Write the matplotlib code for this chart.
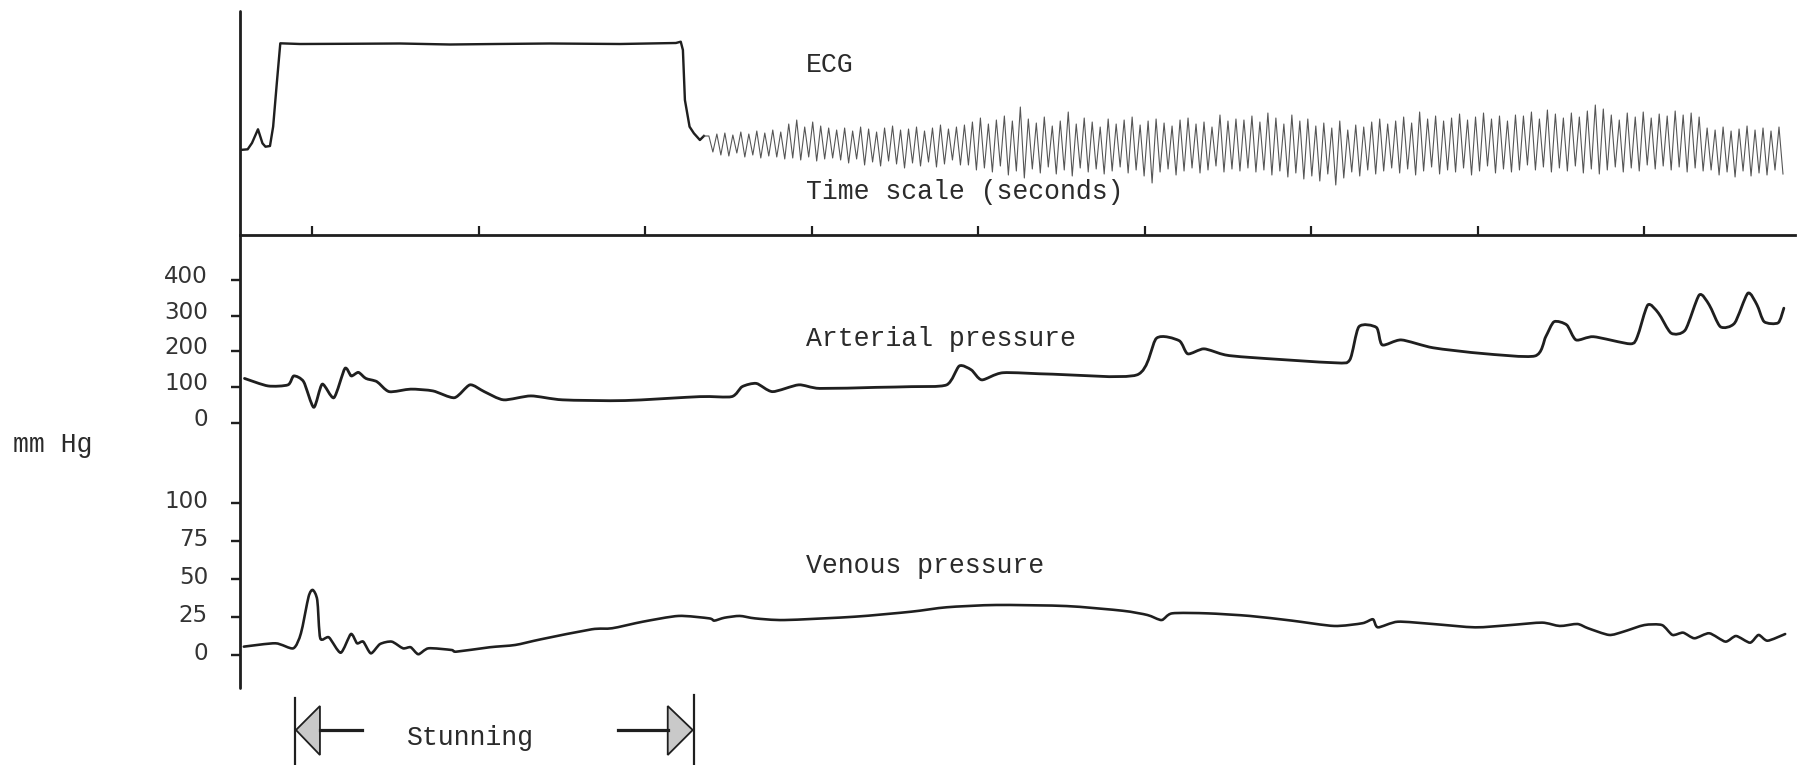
import numpy as np
import matplotlib
matplotlib.use("Agg")
import matplotlib.pyplot as plt
from matplotlib.lines import Line2D
from matplotlib.patches import Polygon, PathPatch
from matplotlib.path import Path
from matplotlib import transforms

# ---------------- recorded data ----------------
# time base in seconds; time-scale marks every second
time_ticks = [1, 2, 3, 4, 5, 6, 7, 8, 9]
t_min, t_max = 0.565, 9.904

# ECG before and during stunning (deflection, arbitrary units)
ecg_t = [0.563, 0.611, 0.637, 0.673, 0.700, 0.718, 0.745, 0.764, 0.786, 0.807,
         0.925, 1.200, 1.526, 1.826, 2.100, 2.426, 2.847, 3.183, 3.212, 3.225,
         3.237, 3.265, 3.291, 3.327, 3.351]
ecg_v = [8.50, 8.57, 9.20, 10.57, 9.17, 8.83, 8.90, 10.83, 15.17, 19.17,
         19.10, 19.12, 19.15, 19.05, 19.10, 19.15, 19.10, 19.20, 19.33, 18.50,
         13.50, 10.83, 10.17, 9.50, 9.90]

# fibrillation after stunning: peak and trough deflection of each beat
fib_onset = 3.381      # s
fib_rate = 20.85       # beats per second
fib_peaks = [9.9, 10.1, 10.2, 10.0, 10.3, 10.1, 10.4, 10.2, 10.5, 10.3,
             11.1, 11.5, 10.8, 11.3, 10.9, 10.7,
             10.5, 10.7, 10.4, 10.8, 10.6, 10.3, 10.7, 10.9, 10.5, 10.6, 10.8, 10.4,
             10.7, 11.0, 10.6, 10.8,
             11.0, 11.3, 11.7, 11.1, 11.5, 11.9, 11.4, 12.8, 11.6, 11.2, 11.8, 10.9,
             11.4, 12.3, 11.1, 11.7, 11.3, 10.8, 11.6, 11.1, 11.5, 11.8, 11.0, 11.4,
             11.6, 11.2, 10.9, 11.5, 11.7, 11.1, 11.3, 10.8, 12.0, 11.4, 11.6,
             11.5, 11.9, 11.3, 12.2, 11.7, 11.1, 12.0, 11.4, 11.6, 10.9, 11.2, 10.7,
             11.4, 10.5, 11.0, 10.8, 11.3, 11.6, 11.1, 11.4, 11.8, 11.2, 12.3, 11.6,
             11.9, 11.4, 11.7, 12.1, 11.5, 11.8, 12.2, 11.6, 11.9, 11.4, 12.0,
             11.9, 12.3, 11.6, 12.5, 12.1, 11.7, 12.2, 11.8, 12.4, 13.0, 12.6, 12.0,
             11.5, 12.2, 11.8, 12.3, 11.7, 12.1, 11.9, 12.4, 12.0, 12.2, 11.8,
             10.7, 10.5, 10.8, 10.4, 10.6, 10.9, 10.5, 10.7, 10.4, 10.8]
fib_troughs = [8.3, 8.0, 7.9, 8.2, 7.8, 8.0, 7.7, 7.9, 7.8, 7.6,
               7.7, 7.5, 7.8, 7.4, 7.6, 7.7,
               7.5, 7.2, 7.6, 7.0, 7.3, 6.9, 7.4, 7.1, 6.7, 7.2, 6.9, 7.3,
               6.8, 7.1, 7.5, 7.0,
               7.0, 6.5, 6.7, 6.3, 6.9, 6.0, 6.4, 5.7, 6.6, 6.2, 6.8, 6.1,
               6.5, 5.9, 6.7, 6.3, 6.6, 6.1, 6.4, 6.8, 6.2, 6.5, 5.9, 5.2,
               6.3, 6.6, 6.0, 6.4, 6.7, 6.2, 6.5, 6.9, 6.3, 6.6, 6.4,
               6.7, 6.3, 6.5, 6.0, 6.4, 5.8, 6.2, 5.6, 5.9, 5.4, 6.1, 5.0,
               5.7, 6.3, 5.9, 6.5, 6.1, 6.4, 6.7, 6.2, 6.6, 6.0, 6.4, 6.8,
               6.1, 6.5, 6.3, 6.7, 6.0, 6.4, 6.9, 6.2, 6.6, 6.3, 6.5,
               7.0, 6.5, 6.8, 6.3, 6.7, 6.4, 6.9, 6.2, 6.6, 6.1, 6.5, 6.8,
               6.3, 6.7, 6.4, 7.0, 6.6, 6.9, 6.5, 6.8, 6.3, 6.7, 6.4,
               6.5, 6.0, 6.3, 5.8, 6.4, 5.9, 6.2, 6.0, 6.5, 6.1]

# arterial pressure (mm Hg)
art_t = [0.592, 0.733, 0.853, 0.888, 0.947, 1.008, 1.059, 1.129, 1.195, 1.233,
         1.276, 1.321, 1.387, 1.461, 1.590, 1.724, 1.853, 1.946, 2.032, 2.148,
         2.312, 2.502, 2.877, 3.327, 3.518, 3.581, 3.666, 3.763, 3.920, 4.047,
         4.386, 4.597, 4.809, 4.885, 4.957, 5.020, 5.147, 5.444, 5.952, 6.070,
         6.205, 6.257, 6.354, 6.481, 6.629, 7.136, 7.230, 7.285, 7.390, 7.425,
         7.539, 7.730, 8.025, 8.342, 8.407, 8.457, 8.533, 8.589, 8.694, 8.914,
         8.957, 9.020, 9.084, 9.160, 9.245, 9.329, 9.389, 9.456, 9.541, 9.621,
         9.676, 9.719, 9.803, 9.837]
art_p = [124, 103, 106, 131, 115, 43, 108, 70, 152, 131,
         141, 124, 115, 87, 94, 89, 70, 106, 87, 64,
         75, 64, 62, 73, 73, 101, 110, 87, 106, 96,
         99, 101, 106, 159, 148, 120, 140, 136, 134, 237,
         230, 193, 207, 190, 183, 168, 176, 269, 267, 218,
         232, 210, 194, 187, 241, 283, 274, 232, 241, 221,
         241, 330, 307, 251, 260, 358, 330, 269, 279, 363,
         330, 283, 280, 321]

# venous pressure (mm Hg)
ven_t = [0.588, 0.778, 0.885, 0.931, 0.977, 1.002, 1.029, 1.047, 1.099, 1.170,
         1.231, 1.268, 1.305, 1.351, 1.406, 1.476, 1.544, 1.590, 1.636, 1.697,
         1.835, 1.865, 2.065, 2.218, 2.371, 2.677, 2.800, 2.984, 3.199, 3.383,
         3.413, 3.474, 3.566, 3.658, 3.835, 4.258, 4.597, 4.809, 5.105, 5.529,
         5.867, 6.015, 6.100, 6.163, 6.375, 6.629, 6.883, 7.136, 7.306, 7.369,
         7.399, 7.518, 7.729, 7.983, 8.195, 8.385, 8.491, 8.597, 8.661, 8.787,
         8.872, 8.999, 9.105, 9.168, 9.232, 9.300, 9.389, 9.486, 9.550, 9.634,
         9.685, 9.739, 9.845]
ven_p = [5.5, 7.7, 4.4, 14.3, 38.4, 42.8, 36.2, 11.0, 11.6, 1.5,
         13.8, 7.7, 8.8, 1.1, 7.2, 8.8, 4.4, 5.1, 0.5, 4.4,
         3.3, 2.2, 5.1, 6.6, 10.3, 16.9, 17.6, 21.9, 25.7, 24.1,
         22.6, 24.5, 25.7, 24.1, 23.0, 25.2, 28.5, 31.4, 32.9, 32.2,
         29.1, 26.3, 23.0, 27.4, 27.4, 25.7, 22.6, 19.1, 20.9, 23.5,
         18.2, 21.9, 20.4, 18.2, 19.7, 21.3, 19.1, 20.4, 17.6, 13.2,
         15.3, 19.7, 19.7, 13.2, 14.7, 11.0, 14.3, 8.8, 12.5, 8.1,
         13.2, 9.4, 13.8]

art_ticks = [0, 100, 200, 300, 400]
ven_ticks = [0, 25, 50, 75, 100]
stun_start, stun_end = 0.895, 3.29   # s

# ---------------- figure ----------------
W, H = 1805, 765
DPI = 100
INK = "#1f1f1f"
MONO = ["Liberation Mono", "DejaVu Sans Mono"]
NUM = ["DejaVu Sans"]

fig = plt.figure(figsize=(W / DPI, H / DPI), dpi=DPI)
fig.patch.set_facecolor("white")


def fx(p):
    return p / W


def fy(p):
    return 1 - p / H


def px(p):          # pixels -> points
    return p * 72 / DPI


def pen_trace(ax, x, y, lw, color=INK, k=0.12):
    """Pen-recorder trace: cardinal spline through every sample."""
    pts = np.column_stack([x, y]).astype(float)
    n = len(pts)
    verts = [pts[0]]
    codes = [Path.MOVETO]
    for i in range(n - 1):
        p0 = pts[max(i - 1, 0)]
        p1 = pts[i]
        p2 = pts[i + 1]
        p3 = pts[min(i + 2, n - 1)]
        verts += [p1 + (p2 - p0) * k, p2 - (p3 - p1) * k, p2]
        codes += [Path.CURVE4] * 3
    ax.add_patch(PathPatch(Path(verts, codes), fill=False, edgecolor=color,
                           lw=lw, capstyle="round", joinstyle="round"))


x0, x1 = 240, 1795
ax_w = fx(x1) - fx(x0)

# ECG channel with the time-scale line as its bottom edge
ax_ecg = fig.add_axes([fx(x0), fy(235), ax_w, (235 - 11) / H])
ax_ecg.set_xlim(t_min, t_max)
ax_ecg.set_ylim(0, 22.4)
ax_ecg.patch.set_visible(False)
for side in ("top", "right", "left"):
    ax_ecg.spines[side].set_visible(False)
ax_ecg.spines["bottom"].set_linewidth(px(2.8))
ax_ecg.spines["bottom"].set_color(INK)
ax_ecg.set_xticks(time_ticks)
ax_ecg.set_xticklabels([])
ax_ecg.set_yticks([])
ax_ecg.tick_params(axis="x", direction="in", length=px(9), width=px(2.2),
                   color=INK)

ax_ecg.plot(ecg_t, ecg_v, color=INK, lw=px(2.4), solid_joinstyle="round")

n_beats = len(fib_peaks)
beat = np.arange(n_beats)
fib_t = np.empty(2 * n_beats)
fib_v = np.empty(2 * n_beats)
fib_t[0::2] = fib_onset + beat / fib_rate
fib_t[1::2] = fib_onset + (beat + 0.5) / fib_rate
fib_v[0::2] = fib_peaks
fib_v[1::2] = fib_troughs
ax_ecg.plot(np.r_[ecg_t[-1], fib_t], np.r_[ecg_v[-1], fib_v],
            color="#555555", lw=px(1.1))


def pressure_axes(bottom_px, top_px, ylim, ticks, lift):
    ax = fig.add_axes([fx(x0), fy(bottom_px), ax_w, (bottom_px - top_px) / H])
    ax.set_xlim(t_min, t_max)
    ax.set_ylim(*ylim)
    ax.patch.set_visible(False)
    for s in ax.spines.values():
        s.set_visible(False)
    ax.set_xticks([])
    ax.set_yticks(ticks)
    ax.set_yticklabels([str(v) for v in ticks])
    ax.tick_params(axis="y", direction="out", length=px(9), width=px(2.4),
                   color=INK, pad=px(23), labelsize=px(23), labelcolor="#333333")
    shift = transforms.ScaledTranslation(0, lift / DPI, fig.dpi_scale_trans)
    for lab in ax.get_yticklabels():
        lab.set_fontfamily(NUM)
        lab.set_transform(lab.get_transform() + shift)
    return ax


ax_art = pressure_axes(440.5, 269.3, (-50, 430), art_ticks, 6)
pen_trace(ax_art, art_t, art_p, px(2.8))

ax_ven = pressure_axes(685.4, 487.8, (-20, 110), ven_ticks, 4)
pen_trace(ax_ven, ven_t, ven_p, px(2.6))

# common vertical axis line
fig.add_artist(Line2D([fx(x0), fx(x0)], [fy(11), fy(688)],
                      transform=fig.transFigure, color=INK, lw=px(2.8),
                      solid_capstyle="round"))

# channel captions
txt = dict(family=MONO, fontsize=px(26.5), color="#2b2b2b")
fig.text(fx(806), fy(72), "ECG", va="baseline", **txt)
fig.text(fx(806), fy(199), "Time scale (seconds)", va="baseline", **txt)
fig.text(fx(806), fy(346), "Arterial pressure", va="baseline", **txt)
fig.text(fx(806), fy(573), "Venous pressure", va="baseline", **txt)
fig.text(fx(13), fy(452), "mm Hg", va="baseline", **txt)
fig.text(fx(407), fy(745), "Stunning", va="baseline", **txt)


# stunning interval marker, anchored on the time axis
def x_pix(t):
    return ax_ven.transData.transform((t, 0))[0]


xl = x_pix(stun_start)
xr = x_pix(stun_end)
yc = 730
for xb, ytop in ((xl, 698), (xr, 695)):
    fig.add_artist(Line2D([fx(xb), fx(xb)], [fy(ytop), fy(765)],
                          transform=fig.transFigure, color=INK, lw=px(2.2)))
heads = [[(xl + 1, yc), (xl + 25, yc - 24), (xl + 25, yc + 25)],
         [(xr - 1, yc), (xr - 26, yc - 24), (xr - 26, yc + 25)]]
for tri in heads:
    fig.add_artist(Polygon([(fx(a), fy(b)) for a, b in tri], closed=True,
                           transform=fig.transFigure, facecolor="#c9c9c9",
                           edgecolor=INK, lw=px(1.8)))
fig.add_artist(Line2D([fx(xl + 25), fx(xl + 67)], [fy(yc), fy(yc)],
                      transform=fig.transFigure, color=INK, lw=px(3.2)))
fig.add_artist(Line2D([fx(xr - 76), fx(xr - 26)], [fy(yc), fy(yc)],
                      transform=fig.transFigure, color=INK, lw=px(3.2)))

fig.savefig("out.png", dpi=DPI, facecolor="white")
